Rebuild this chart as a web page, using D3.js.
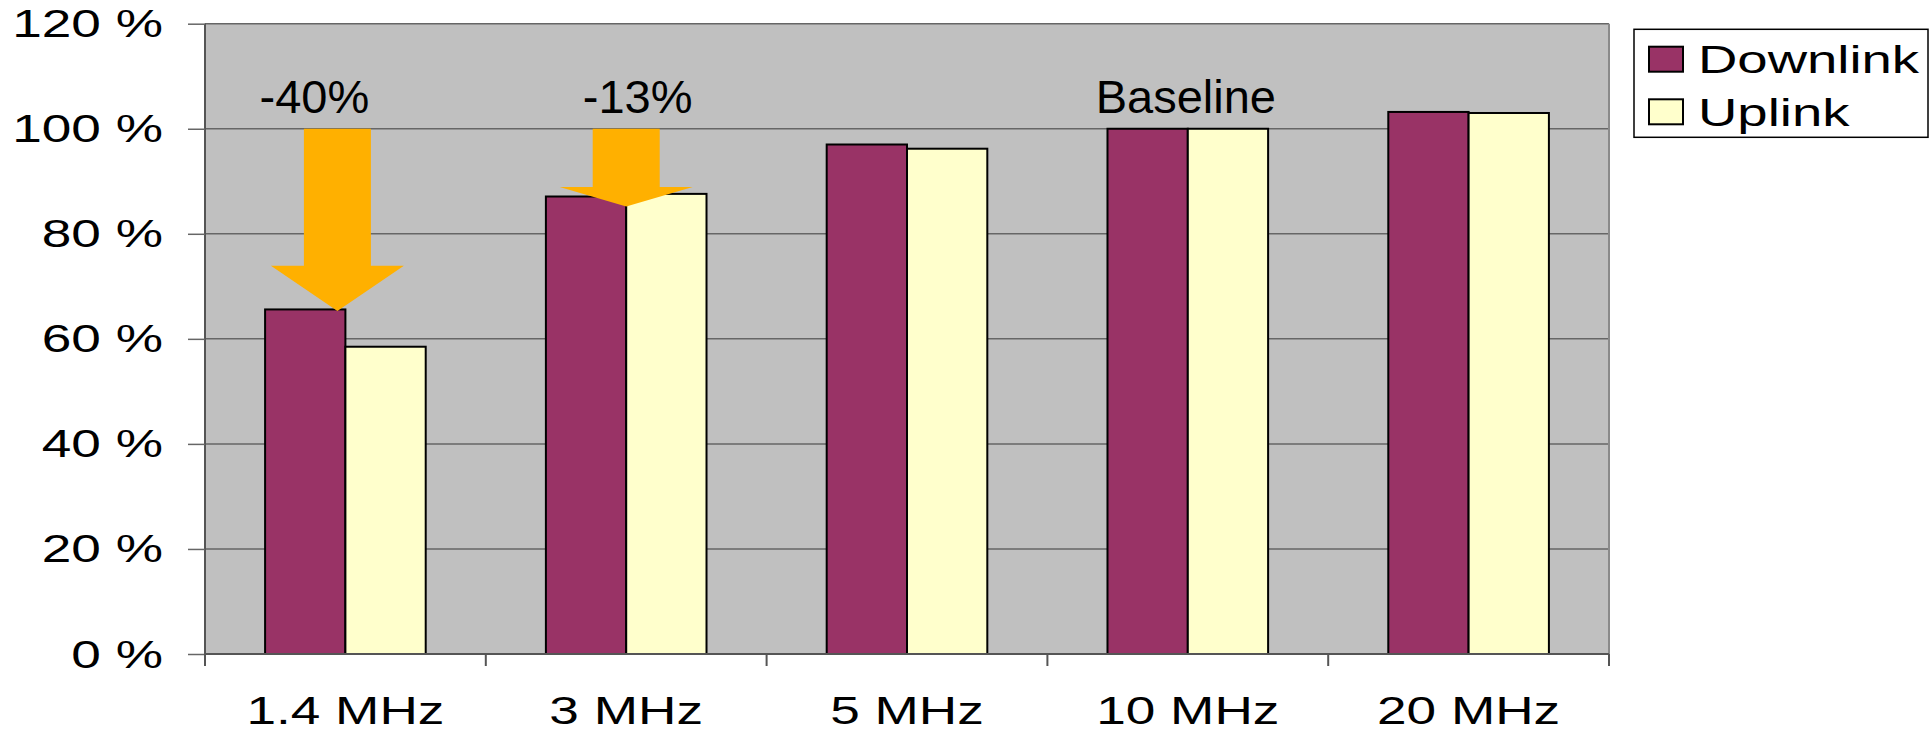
<!DOCTYPE html>
<html>
<head>
<meta charset="utf-8">
<script src="https://cdn.jsdelivr.net/npm/d3@7"></script>
<style>
  html, body { margin: 0; padding: 0; background: #ffffff; }
  svg { display: block; }
  text { font-family: "Liberation Sans", Arial, sans-serif; fill: #000; }
</style>
</head>
<body>
<svg id="chart" width="1932" height="729"></svg>
<script>
// ---- data ----
const categories = ["1.4 MHz", "3 MHz", "5 MHz", "10 MHz", "20 MHz"];
const seriesNames = ["Downlink", "Uplink"];
const downlink = [65.6, 87.1, 97.0, 100.0, 103.2];
const uplink = [58.5, 87.6, 96.2, 100.0, 103.0];
const yTicks = [0, 20, 40, 60, 80, 100, 120];
const annotationTexts = ["-40%", "-13%", "Baseline"];
const annotationCats = ["1.4 MHz", "3 MHz", "10 MHz"];
const annotationValues = [103, 103, 103];
const arrowCats = ["1.4 MHz", "3 MHz"];
const arrowFrom = [100, 100];
const arrowHeadStart = [73.9, 88.9];
const arrowTo = [65.3, 85.2];

// ---- styles ----
const W = 1932, H = 729;
const margin = { left: 205, top: 23.7, right: 323, bottom: 75 };
const colors = { Downlink: "#993366", Uplink: "#FFFFCC" };
const plotBg = "#C0C0C0";
const gridColor = "#666666";
const arrowColor = "#FFB000";
const axisFont = 38, axisStretch = 1.4;
const annotFont = 47;
const annotDx = [-31, 11.5, -2];
const arrowDx = [-8, 0];
const shaftW = 67, headW = 133;

const svg = d3.select("#chart");
const iw = W - margin.left - margin.right;
const ih = H - margin.top - margin.bottom;
const g = svg.append("g").attr("transform", `translate(${margin.left},${margin.top})`);

const x0 = d3.scaleBand().domain(categories).range([0, iw]).paddingInner(0.428).paddingOuter(0.214);
const x1 = d3.scaleBand().domain(seriesNames).range([0, x0.bandwidth()]).padding(0);
const y = d3.scaleLinear().domain([0, 120]).range([ih, 0]);

// plot background
g.append("rect").attr("x", 0).attr("y", 0).attr("width", iw).attr("height", ih).attr("fill", plotBg);

// gridlines
g.append("g").selectAll("line").data(yTicks).join("line")
  .attr("x1", 0).attr("x2", iw)
  .attr("y1", d => y(d)).attr("y2", d => y(d))
  .attr("stroke", gridColor).attr("stroke-width", 1.5);

// right border
g.append("line").attr("x1", iw).attr("x2", iw).attr("y1", 0).attr("y2", ih)
  .attr("stroke", "#8a8a8a").attr("stroke-width", 2);

// bars
const rows = categories.map((c, i) => ({ cat: c, values: [
  { name: "Downlink", v: downlink[i] }, { name: "Uplink", v: uplink[i] }] }));
const cg = g.append("g").selectAll("g").data(rows).join("g")
  .attr("transform", d => `translate(${x0(d.cat)},0)`);
cg.selectAll("rect").data(d => d.values).join("rect")
  .attr("x", d => x1(d.name)).attr("width", x1.bandwidth())
  .attr("y", d => y(d.v)).attr("height", d => y(0) - y(d.v))
  .attr("fill", d => colors[d.name]).attr("stroke", "#000").attr("stroke-width", 2);

// y axis
const yAxis = d3.axisLeft(y).tickValues(yTicks).tickSize(17).tickPadding(0).tickFormat(d => d + " %");
const ya = g.append("g").call(yAxis);
ya.select(".domain").attr("stroke", "#555").attr("stroke-width", 2).attr("d", `M0,0V${ih + 12}`);
ya.selectAll(".tick line").attr("stroke", gridColor).attr("stroke-width", 1.5);
ya.selectAll(".tick text")
  .attr("x", null).attr("dy", null)
  .attr("font-size", axisFont).attr("font-family", "Liberation Sans, Arial, sans-serif")
  .attr("fill", "#000").attr("text-anchor", "end")
  .attr("transform", `translate(-42,13) scale(${axisStretch},1)`);

// x axis (category boundary ticks)
const boundaries = d3.range(categories.length + 1).map(i => i * x0.step());
g.append("line").attr("x1", 0).attr("x2", iw).attr("y1", ih).attr("y2", ih)
  .attr("stroke", "#555").attr("stroke-width", 2);
g.append("g").selectAll("line").data(boundaries).join("line")
  .attr("x1", d => d).attr("x2", d => d).attr("y1", ih).attr("y2", ih + 12)
  .attr("stroke", "#555").attr("stroke-width", 2);
g.append("g").selectAll("text").data(categories).join("text")
  .attr("transform", d => `translate(${x0(d) + x0.bandwidth() / 2},${ih + 70}) scale(${axisStretch},1)`)
  .attr("text-anchor", "middle").attr("font-size", axisFont).text(d => d);

// arrows
arrowCats.forEach((c, i) => {
  const cx = x0(c) + x0.bandwidth() / 2 + arrowDx[i];
  const yTop = y(arrowFrom[i]), yHead = y(arrowHeadStart[i]), yTip = y(arrowTo[i]);
  const pts = [
    [cx - shaftW / 2, yTop], [cx + shaftW / 2, yTop], [cx + shaftW / 2, yHead],
    [cx + headW / 2, yHead], [cx, yTip], [cx - headW / 2, yHead], [cx - shaftW / 2, yHead]
  ];
  g.append("path").attr("d", d3.line()(pts) + "Z").attr("fill", arrowColor);
});

// annotation labels
annotationTexts.forEach((t, i) => {
  g.append("text")
    .attr("x", x0(annotationCats[i]) + x0.bandwidth() / 2 + annotDx[i])
    .attr("y", y(annotationValues[i]))
    .attr("text-anchor", "middle").attr("font-size", annotFont).text(t);
});

// legend
const lg = svg.append("g").attr("transform", "translate(1634,29.3)");
lg.append("rect").attr("width", 294).attr("height", 108).attr("fill", "#fff")
  .attr("stroke", "#000").attr("stroke-width", 1.5);
seriesNames.forEach((s, i) => {
  const row = lg.append("g").attr("transform", `translate(15,${17.4 + i * 52.6})`);
  row.append("rect").attr("width", 34).attr("height", 25).attr("fill", colors[s])
    .attr("stroke", "#000").attr("stroke-width", 2);
  row.append("text").attr("transform", `translate(49,26.5) scale(1.38,1)`)
    .attr("font-size", 39.5).text(s);
});
</script>
</body>
</html>
